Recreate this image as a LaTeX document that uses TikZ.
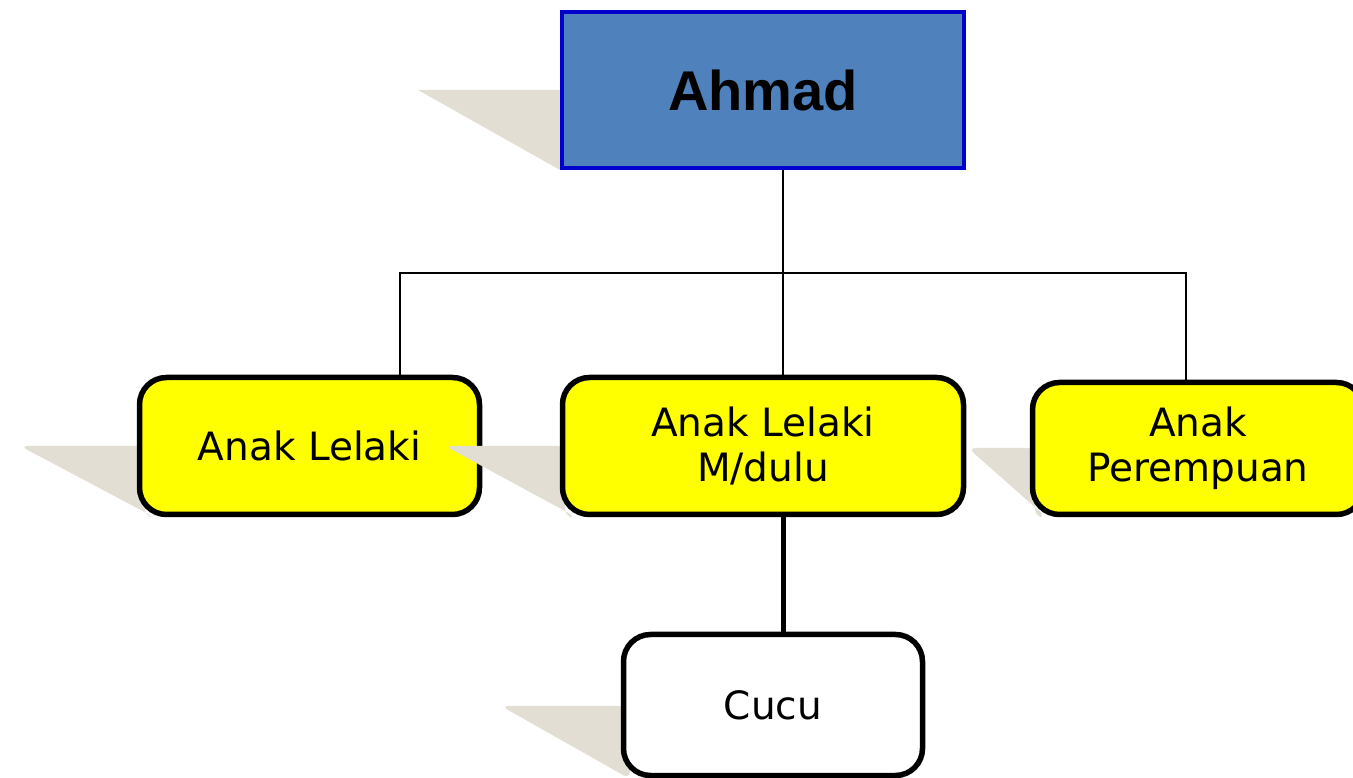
\documentclass[tikz,border=0pt]{standalone}
\usepackage{fontspec}
\setmainfont{DejaVu Sans}
\newfontfamily\headfont{Liberation Sans}
\definecolor{shadowgray}{RGB}{227,222,211}
\definecolor{headblue}{RGB}{79,129,189}
\definecolor{headedge}{RGB}{0,0,204}
\definecolor{boxyellow}{RGB}{255,255,0}
\begin{document}
\begin{tikzpicture}[x=1pt,y=1pt,
  member/.style={draw=black,line width=5.5pt,rounded corners=27pt,fill=boxyellow,align=center,inner sep=0pt,font=\fontsize{39}{45}\selectfont},
  shadowbox/.style={fill=shadowgray,rounded corners=8pt},
  link/.style={draw=black,line width=1.5pt}]
\useasboundingbox (0,0) rectangle (1353,777);
\fill[shadowgray](418,687)--(560,687)--(560,607)--cycle;
\node[draw=headedge,line width=4pt,fill=headblue,inner sep=0pt,minimum width=402pt,minimum height=156pt,font=\headfont\bfseries\fontsize{56}{60}\selectfont](ahmad)at(763,687){Ahmad};
\fill[shadowbox](20,331)--(145,331)--(145,260)--(154,260)--cycle;
\node[member,minimum width=340pt,minimum height=137pt](son)at(309.5,331){Anak Lelaki};
\fill[shadowbox](445,331)--(565,331)--(565,260)--(576,260)--cycle;
\node[member,minimum width=401pt,minimum height=137pt](mid)at(763,331){Anak Lelaki\\M/dulu};
\fill[shadowbox](968,329)--(1035,329)--(1035,260)--(1046,260)--cycle;
\node[member,minimum width=331pt,minimum height=132pt](daughter)at(1198,328.5){Anak\\Perempuan};
\fill[shadowbox](501,71)--(630,71)--(630,-2)--cycle;
\node[member,fill=white,minimum width=299pt,minimum height=141pt](cucu)at(773,72){Cucu};
\coordinate(busL)at(400,504);\coordinate(busM)at(783,504);\coordinate(busR)at(1186,504);
\draw[link](ahmad.south -| busM)--(mid.north -| busM);
\draw[link](son.north -| busL)|-(busR)--(daughter.north -| busR);
\draw[line width=5pt](mid.south -| busM)--(cucu.north -| busM);
\end{tikzpicture}
\end{document}
